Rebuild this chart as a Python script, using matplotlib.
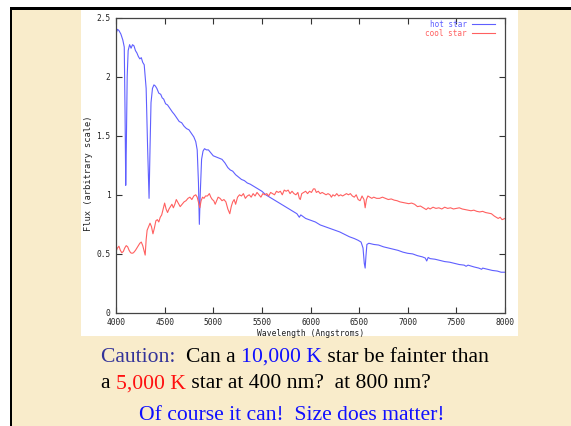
import matplotlib
matplotlib.use("Agg")
import matplotlib.pyplot as plt
from matplotlib.patches import Rectangle

W, H = 571, 426

# hot star spectrum (Angstrom, flux)
hot_wave = [4000, 4015, 4030, 4050, 4070, 4085, 4093, 4100, 4106, 4115, 4125, 4140, 4155, 4170,
            4185, 4200, 4215, 4230, 4245, 4260, 4275, 4290, 4310, 4325, 4340, 4350, 4360, 4375,
            4390, 4405, 4420, 4440, 4460, 4475, 4490, 4510, 4530, 4555, 4580, 4600, 4625, 4650,
            4675, 4700, 4725, 4750, 4775, 4800, 4820, 4835, 4848, 4857, 4866, 4880, 4895, 4910,
            4930, 4950, 4970, 5000, 5030, 5060, 5090, 5120, 5150, 5175, 5200, 5230, 5260, 5290,
            5320, 5350, 5380, 5420, 5460, 5500, 5540, 5580, 5620, 5660, 5700, 5740, 5780, 5820,
            5860, 5885, 5900, 5950, 6000, 6050, 6100, 6150, 6200, 6250, 6300, 6350, 6400, 6450,
            6490, 6520, 6540, 6553, 6562, 6570, 6580, 6600, 6650, 6700, 6750, 6800, 6850, 6900,
            6950, 7000, 7050, 7100, 7150, 7180, 7195, 7210, 7230, 7280, 7330, 7380, 7430, 7480,
            7530, 7580, 7600, 7620, 7680, 7730, 7760, 7770, 7820, 7870, 7920, 7960, 8000]
hot_flux = [2.36, 2.40, 2.39, 2.36, 2.31, 2.25, 1.70, 1.08, 1.40, 2.00, 2.22, 2.27, 2.24, 2.27,
            2.26, 2.22, 2.20, 2.17, 2.15, 2.16, 2.12, 2.10, 1.90, 1.40, 0.97, 1.40, 1.78, 1.90,
            1.93, 1.92, 1.90, 1.86, 1.85, 1.82, 1.81, 1.77, 1.76, 1.73, 1.70, 1.68, 1.65, 1.62,
            1.61, 1.58, 1.56, 1.55, 1.52, 1.49, 1.45, 1.38, 1.10, 0.75, 1.00, 1.30, 1.37, 1.39,
            1.38, 1.38, 1.36, 1.33, 1.32, 1.31, 1.30, 1.27, 1.23, 1.21, 1.20, 1.17, 1.15, 1.13,
            1.12, 1.10, 1.09, 1.07, 1.05, 1.03, 1.00, 0.98, 0.96, 0.94, 0.92, 0.90, 0.88, 0.86,
            0.84, 0.81, 0.83, 0.80, 0.785, 0.77, 0.745, 0.73, 0.715, 0.70, 0.686, 0.665, 0.645, 0.63,
            0.615, 0.60, 0.55, 0.42, 0.38, 0.48, 0.58, 0.59, 0.58, 0.575, 0.56, 0.55, 0.54, 0.53,
            0.515, 0.505, 0.50, 0.485, 0.475, 0.465, 0.44, 0.47, 0.46, 0.455, 0.445, 0.435, 0.43, 0.42,
            0.41, 0.405, 0.395, 0.405, 0.39, 0.38, 0.37, 0.38, 0.37, 0.36, 0.355, 0.345, 0.345]

# cool star spectrum
cool_wave = [4000, 4015, 4030, 4045, 4060, 4075, 4090, 4105, 4120, 4135, 4150, 4165, 4180, 4200,
             4215, 4230, 4245, 4260, 4275, 4290, 4300, 4310, 4320, 4335, 4350, 4365, 4380, 4395,
             4410, 4425, 4440, 4455, 4470, 4485, 4500, 4515, 4530, 4545, 4560, 4575, 4590, 4605,
             4620, 4640, 4660, 4680, 4700, 4720, 4740, 4760, 4780, 4800, 4820, 4835, 4850, 4862,
             4875, 4890, 4905, 4920, 4940, 4960, 4975, 4990, 5005, 5020, 5035, 5050, 5070, 5090,
             5110, 5130, 5150, 5170, 5185, 5200, 5215, 5230, 5250, 5270, 5290, 5310, 5330, 5350,
             5370, 5390, 5410, 5430, 5450, 5470, 5490, 5510, 5530, 5550, 5570, 5590, 5610, 5630,
             5650, 5670, 5690, 5710, 5730, 5750, 5770, 5790, 5810, 5830, 5850, 5870, 5885, 5895,
             5910, 5930, 5950, 5970, 5990, 6010, 6030, 6045, 6060, 6080, 6100, 6120, 6140, 6160,
             6180, 6200, 6215, 6230, 6250, 6270, 6290, 6310, 6330, 6350, 6370, 6390, 6410, 6430,
             6450, 6470, 6490, 6510, 6530, 6550, 6562, 6575, 6590, 6610, 6630, 6650, 6680, 6710,
             6740, 6770, 6800, 6830, 6860, 6890, 6920, 6950, 6980, 7010, 7040, 7070, 7100, 7130,
             7160, 7190, 7210, 7230, 7260, 7290, 7320, 7350, 7380, 7410, 7440, 7470, 7500, 7530,
             7560, 7590, 7620, 7650, 7680, 7710, 7740, 7770, 7800, 7830, 7860, 7890, 7910, 7930,
             7950, 7970, 8000]
cool_flux = [0.52, 0.55, 0.565, 0.53, 0.51, 0.52, 0.55, 0.57, 0.56, 0.53, 0.51, 0.505, 0.51, 0.53,
             0.55, 0.57, 0.59, 0.60, 0.57, 0.52, 0.49, 0.62, 0.70, 0.73, 0.76, 0.73, 0.67, 0.72,
             0.78, 0.79, 0.77, 0.81, 0.83, 0.88, 0.93, 0.88, 0.85, 0.88, 0.90, 0.92, 0.89, 0.92,
             0.96, 0.93, 0.90, 0.92, 0.94, 0.95, 0.97, 0.98, 0.96, 0.99, 1.00, 0.98, 0.93, 0.89,
             0.95, 0.98, 0.97, 0.99, 0.99, 1.01, 0.98, 0.96, 0.95, 0.92, 0.95, 0.98, 0.97, 0.95,
             0.96, 0.94, 0.88, 0.84, 0.90, 0.94, 0.96, 0.92, 0.98, 1.00, 0.99, 1.01, 0.97, 0.99,
             1.00, 0.98, 1.01, 0.99, 1.02, 1.00, 0.98, 1.01, 1.00, 1.01, 0.99, 1.02, 1.01, 1.00,
             1.03, 1.02, 1.03, 1.00, 1.04, 1.03, 1.04, 1.01, 1.03, 1.01, 1.00, 1.02, 0.97, 0.96,
             1.01, 1.02, 1.03, 1.01, 1.03, 1.02, 1.05, 1.05, 1.02, 1.03, 1.01, 1.02, 1.01, 1.00,
             1.01, 1.00, 0.98, 1.00, 0.99, 1.01, 0.99, 1.00, 0.99, 1.00, 1.01, 1.00, 1.01, 0.99,
             0.98, 1.00, 0.96, 0.95, 0.99, 0.96, 0.89, 0.96, 0.99, 0.98, 0.97, 0.98, 0.97, 0.97,
             0.98, 0.97, 0.96, 0.965, 0.955, 0.95, 0.94, 0.935, 0.93, 0.925, 0.93, 0.92, 0.90, 0.905,
             0.89, 0.875, 0.89, 0.88, 0.895, 0.885, 0.89, 0.88, 0.895, 0.885, 0.89, 0.88, 0.885, 0.89,
             0.88, 0.875, 0.87, 0.865, 0.87, 0.86, 0.855, 0.86, 0.85, 0.845, 0.84, 0.82, 0.81, 0.80,
             0.81, 0.79, 0.80]

x_ticks = [4000, 4500, 5000, 5500, 6000, 6500, 7000, 7500, 8000]
y_ticks = [0, 0.5, 1, 1.5, 2, 2.5]
y_tick_labels = ["0", "0.5", "1", "1.5", "2", "2.5"]

PARCHMENT = "#f9eccb"
HOT = "#5f5fff"
COOL = "#ff6060"
MONO = "DejaVu Sans Mono"


def fx(px):
    return px / W


def fy(py):
    return 1 - py / H


fig = plt.figure(figsize=(W / 100, H / 100), dpi=100)
fig.patch.set_facecolor("white")

# slide background, border and the white panel behind the plot
fig.patches.append(Rectangle((fx(12), 0), 1 - fx(12), fy(10), transform=fig.transFigure,
                             facecolor=PARCHMENT, edgecolor="none", zorder=-10))
fig.patches.append(Rectangle((fx(10), fy(10)), 1 - fx(10), 3 / H, transform=fig.transFigure,
                             facecolor="black", edgecolor="none", zorder=-9))
fig.patches.append(Rectangle((fx(10), 0), 2 / W, fy(7), transform=fig.transFigure,
                             facecolor="black", edgecolor="none", zorder=-9))
fig.patches.append(Rectangle((fx(81), fy(336)), fx(518) - fx(81), fy(10) - fy(336),
                             transform=fig.transFigure, facecolor="white", edgecolor="none", zorder=-8))

ax = fig.add_axes([fx(116), fy(313), fx(505) - fx(116), fy(17.5) - fy(313)])
ax.set_facecolor("white")
ax.plot(hot_wave, hot_flux, color=HOT, lw=0.8, label="hot star")
ax.plot(cool_wave, cool_flux, color=COOL, lw=0.8, label="cool star")
ax.set_xlim(4000, 8000)
ax.set_ylim(0, 2.5)
ax.set_xticks(x_ticks)
ax.set_xticklabels([str(t) for t in x_ticks])
ax.set_yticks(y_ticks)
ax.set_yticklabels(y_tick_labels)
ax.tick_params(direction="in", length=4, width=0.8, top=True, right=True, colors="#333333",
               labelsize=5.7, pad=4, labelcolor="#222222")
ax.tick_params(axis="x", pad=3.5)
for lab in ax.get_xticklabels() + ax.get_yticklabels():
    lab.set_family(MONO)
for s in ax.spines.values():
    s.set_color("#444444")
    s.set_linewidth(0.9)

ax.set_xlabel("Wavelength (Angstroms)", family=MONO, fontsize=5.8, color="#222222")
ax.xaxis.set_label_coords(0.5, -0.053)
ax.set_ylabel("Flux (arbitrary scale)", family=MONO, fontsize=6.3, color="#222222")
ax.yaxis.set_label_coords(-0.058, 0.472)

leg = ax.legend(loc="upper right", bbox_to_anchor=(0.974, 0.993), frameon=False,
                prop={"family": MONO, "size": 5.5}, markerfirst=False, handlelength=3.0,
                handletextpad=0.66, labelspacing=0.0, borderpad=0, borderaxespad=0)
for txt, c in zip(leg.get_texts(), [HOT, COOL]):
    txt.set_color(c)

# caption text below the chart
SERIF = "Liberation Serif"
renderer = fig.canvas.get_renderer()


def colored_line(parts, x0, y0, size=15.6):
    x = fx(x0)
    for s, c in parts:
        t = fig.text(x, fy(y0), s, color=c, fontsize=size, family=SERIF, va="baseline", ha="left")
        bb = t.get_window_extent(renderer)
        x = bb.x1 / W


colored_line([("Caution:  ", "#333399"), ("Can a ", "black"), ("10,000 K", "#1010ff"),
              (" star be fainter than", "black")], 101, 361.5)
colored_line([("a ", "black"), ("5,000 K", "#ff1010"),
              (" star at 400 nm?  at 800 nm?", "black")], 101, 388.5)
fig.text(fx(292), fy(420), "Of course it can!  Size does matter!", color="#1010ff", fontsize=15.6,
         family=SERIF, va="baseline", ha="center")

fig.savefig("out.png", dpi=100)
